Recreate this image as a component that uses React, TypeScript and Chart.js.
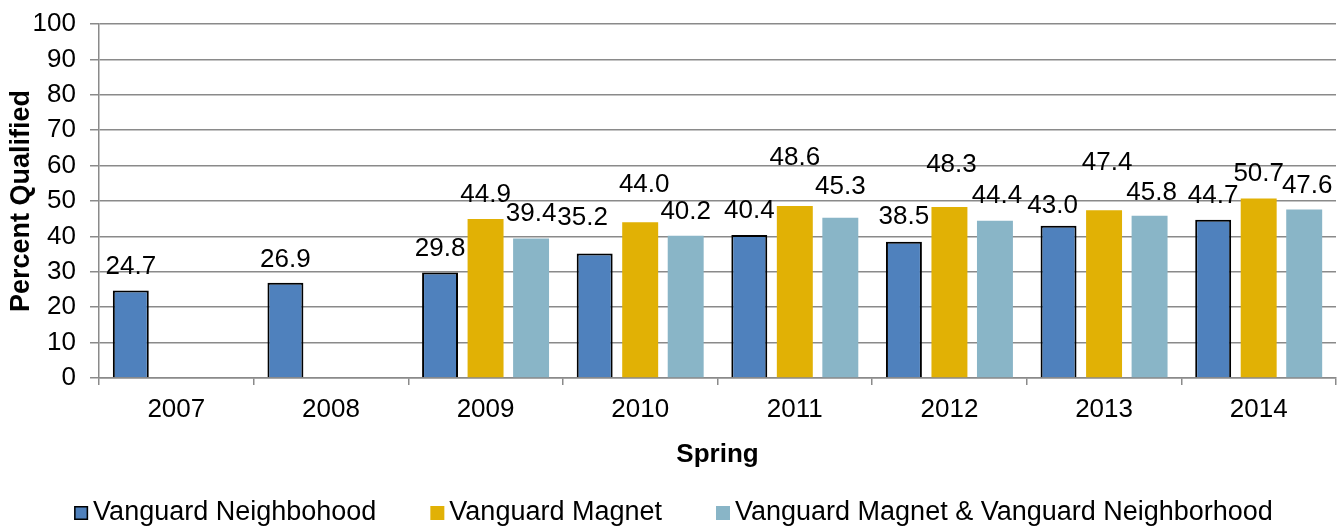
import React, { useEffect, useRef } from "react";
import { Chart, registerables } from "chart.js";

Chart.register(...registerables);

const categories = ["2007", "2008", "2009", "2010", "2011", "2012", "2013", "2014"];
const neighborhoodValues = [24.7, 26.9, 29.8, 35.2, 40.4, 38.5, 43.0, 44.7];
const magnetValues = [null, null, 44.9, 44.0, 48.6, 48.3, 47.4, 50.7];
const bothValues = [null, null, 39.4, 40.2, 45.3, 44.4, 45.8, 47.6];
const seriesLabels = [
  "Vanguard Neighbohood",
  "Vanguard Magnet",
  "Vanguard Magnet & Vanguard Neighborhood",
];
const yMin = 0;
const yMax = 100;
const yStep = 10;
const yTitle = "Percent Qualified";
const xTitle = "Spring";

// label placement (style only): pixels above the bar top, and horizontal nudge
const labelLiftNeighborhood = [17, 16, 17, 28, 17, 18, 13, 17];
const labelLiftMagnet = [17, 17, 17, 30, 41, 35, 40, 18];
const labelLiftBoth = [17, 17, 18, 17, 24, 18, 16, 16];
const labelShiftNeighborhood = [0, 0, 0, -12, 0, 0, -6, 0];
const labelShiftMagnet = [0, 0, 0, 4, 0, 2, 3, 0];
const labelShiftBoth = [0, 0, 0, 0, 0, 2, 2, 3];

const FONT = "'Liberation Sans', Arial, Helvetica, sans-serif";
const GRID = "#8a8a8a";

const valueLabels = {
  id: "valueLabels",
  afterDatasetsDraw(chart: any) {
    const { ctx } = chart;
    ctx.save();
    ctx.font = `26px ${FONT}`;
    ctx.fillStyle = "#000";
    ctx.textAlign = "center";
    ctx.textBaseline = "alphabetic";
    chart.data.datasets.forEach((ds: any, i: number) => {
      const meta = chart.getDatasetMeta(i);
      meta.data.forEach((bar: any, j: number) => {
        const v = ds.data[j];
        if (v === null || v === undefined) return;
        const lift = ds.labelLift ? ds.labelLift[j] : 17;
        const shift = ds.labelShift ? ds.labelShift[j] : 0;
        ctx.fillText(Number(v).toFixed(1), bar.x + shift, bar.y - lift);
      });
    });
    ctx.restore();
  },
};

const customLegend = {
  id: "customLegend",
  afterDraw(chart: any) {
    const { ctx } = chart;
    ctx.save();
    ctx.font = `27px ${FONT}`;
    const box = 14;
    const gap = 5;
    const itemGap = 54;
    const items = chart.data.datasets.map((ds: any) => ({
      label: ds.label,
      fill: ds.backgroundColor,
      stroke: ds.borderWidth ? ds.borderColor : null,
      w: box + gap + ctx.measureText(ds.label).width,
    }));
    const total =
      items.reduce((s: number, it: any) => s + it.w, 0) + itemGap * (items.length - 1);
    let x = chart.width / 2 - total / 2 + 2;
    const cy = chart.height - 14;
    items.forEach((it: any) => {
      ctx.fillStyle = it.fill;
      ctx.fillRect(x, cy - box / 2, box, box);
      if (it.stroke) {
        ctx.strokeStyle = it.stroke;
        ctx.lineWidth = 1.5;
        ctx.strokeRect(x + 0.75, cy - box / 2 + 0.75, box - 1.5, box - 1.5);
      }
      ctx.fillStyle = "#000";
      ctx.textAlign = "left";
      ctx.textBaseline = "middle";
      ctx.fillText(it.label, x + box + gap, cy);
      x += it.w + itemGap;
    });
    ctx.restore();
  },
};

export default function App() {
  const canvasRef = useRef<HTMLCanvasElement | null>(null);

  useEffect(() => {
    document.body.style.margin = "0";
    const canvas = canvasRef.current;
    if (!canvas) return;
    const chart = new Chart(canvas, {
      type: "bar",
      data: {
        labels: categories,
        datasets: [
          {
            label: seriesLabels[0],
            data: neighborhoodValues,
            backgroundColor: "#4F81BD",
            borderColor: "#000000",
            borderWidth: 2,
            categoryPercentage: 0.883,
            barPercentage: 0.79,
            labelLift: labelLiftNeighborhood,
            labelShift: labelShiftNeighborhood,
          },
          {
            label: seriesLabels[1],
            data: magnetValues,
            backgroundColor: "#E1B105",
            borderWidth: 0,
            categoryPercentage: 0.883,
            barPercentage: 0.79,
            labelLift: labelLiftMagnet,
            labelShift: labelShiftMagnet,
          },
          {
            label: seriesLabels[2],
            data: bothValues,
            backgroundColor: "#89B5C7",
            borderWidth: 0,
            categoryPercentage: 0.883,
            barPercentage: 0.79,
            labelLift: labelLiftBoth,
            labelShift: labelShiftBoth,
          },
        ] as any,
      },
      options: {
        responsive: false,
        animation: false,
        devicePixelRatio: 1,
        layout: { padding: { top: 24, right: 7, bottom: 57, left: 0 } },
        plugins: {
          legend: { display: false },
          tooltip: { enabled: false },
        },
        scales: {
          x: {
            grid: {
              display: true,
              drawOnChartArea: false,
              drawTicks: true,
              offset: true,
              tickLength: 7,
              color: GRID,
              lineWidth: 1.5,
            },
            border: { display: true, color: GRID, width: 1.5 },
            ticks: {
              color: "#000",
              font: { family: FONT, size: 26 },
              padding: 9,
              maxRotation: 0,
              autoSkip: false,
            },
            title: {
              display: true,
              text: xTitle,
              color: "#000",
              font: { family: FONT, size: 26, weight: "bold" },
              padding: { top: 0, bottom: 0 },
            },
            afterFit(scale: any) {
              scale.height = 92;
              scale.paddingLeft = 0;
              scale.paddingRight = 0;
            },
          },
          y: {
            min: yMin,
            max: yMax,
            grid: {
              color: GRID,
              lineWidth: 1.5,
              drawTicks: true,
              tickLength: 9,
            },
            border: { display: true, color: GRID, width: 1.5 },
            ticks: {
              stepSize: yStep,
              color: "#000",
              font: { family: FONT, size: 26 },
              padding: 14,
            },
            title: {
              display: true,
              text: yTitle,
              color: "#000",
              font: { family: FONT, size: 27, weight: "bold" },
              padding: { top: 5, bottom: 0 },
            },
            afterFit(scale: any) {
              scale.width = 99;
              scale.paddingTop = 0;
              scale.paddingBottom = 0;
            },
          },
        },
      } as any,
      plugins: [valueLabels, customLegend],
    });
    return () => chart.destroy();
  }, []);

  return (
    <canvas
      ref={canvasRef}
      width={1343}
      height={527}
      style={{ display: "block", width: "1343px", height: "527px" }}
    />
  );
}
